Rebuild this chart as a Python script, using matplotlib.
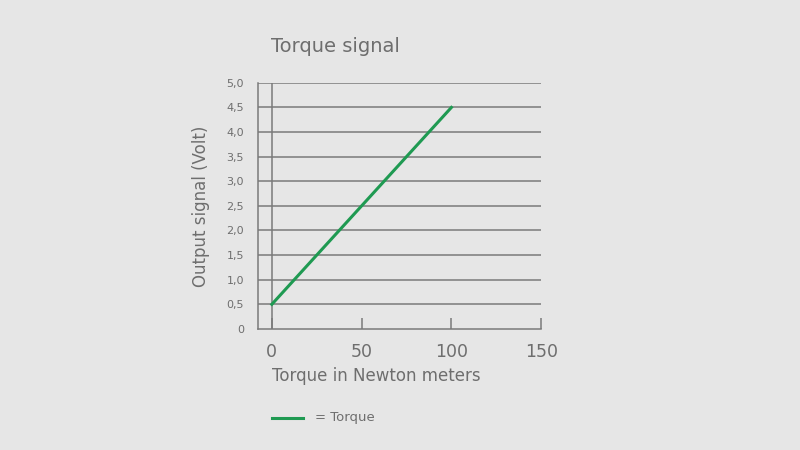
import matplotlib
matplotlib.use("Agg")
import matplotlib.pyplot as plt

torque_nm = [0, 100]
output_volt = [0.5, 4.5]
y_ticks = [0, 0.5, 1.0, 1.5, 2.0, 2.5, 3.0, 3.5, 4.0, 4.5, 5.0]
y_labels = ["0" if v == 0 else f"{v:.1f}".replace(".", ",") for v in y_ticks]
x_ticks = [0, 50, 100, 150]

bg = "#e6e6e6"
grey = "#7a7a7a"
txt = "#6e6e6e"
green = "#1f9a52"

fig = plt.figure(figsize=(8, 4.5), dpi=100, facecolor=bg)
ax = fig.add_axes([0.3225, 0.269, 0.354, 0.547], facecolor=bg)

for v in y_ticks[1:]:
    ax.axhline(v, color=grey, lw=1.1, zorder=1)
ax.axvline(0, color=grey, lw=1.1, zorder=1)
ax.plot(torque_nm, output_volt, color=green, lw=2.2, zorder=3)

ax.set_xlim(-7.7, 149.5)
ax.set_ylim(0, 5)
for s in ("top", "right"):
    ax.spines[s].set_visible(False)
for s in ("left", "bottom"):
    ax.spines[s].set_color(grey)
    ax.spines[s].set_linewidth(1.1)

ax.set_yticks(y_ticks, y_labels)
ax.set_xticks(x_ticks, [str(v) for v in x_ticks])
ax.tick_params(axis="y", length=0, pad=10, labelsize=8, labelcolor=txt)
ax.tick_params(axis="x", direction="in", length=8, width=1.1, color=grey,
               pad=10, labelsize=12.5, labelcolor=txt)

ax.set_ylabel("Output signal (Volt)", fontsize=12, color=txt, labelpad=12)
fig.text(272 / 800, 1 - 376 / 450, "Torque in Newton meters", fontsize=12,
         color=txt, va="center", ha="left")
fig.text(271 / 800, 1 - 47 / 450, "Torque signal", fontsize=14, color=txt,
         va="center", ha="left")

fig.add_artist(plt.Line2D([272 / 800, 303 / 800], [1 - 418 / 450] * 2,
                          color=green, lw=2.2))
fig.text(315 / 800, 1 - 418 / 450, "= Torque", fontsize=9.5, color=txt,
         va="center", ha="left")

fig.savefig("out.png", dpi=100, facecolor=bg)
